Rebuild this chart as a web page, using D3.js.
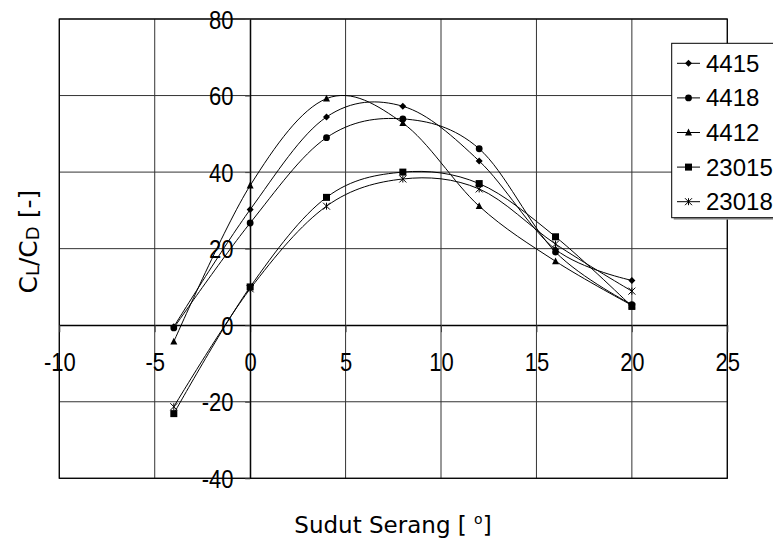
<!DOCTYPE html>
<html>
<head>
<meta charset="utf-8">
<script src="https://cdn.jsdelivr.net/npm/d3@7"></script>
<style>
  html, body { margin: 0; padding: 0; background: #fff; }
  svg { display: block; }
</style>
</head>
<body>
<svg id="chart" width="773" height="541"></svg>
<script>
// Angle of attack (degrees) and lift-to-drag ratio for each airfoil
const angles = [-4, 0, 4, 8, 12, 16, 20];
const seriesNames = ["4415", "4418", "4412", "23015", "23018"];
const cl4415  = [-0.4, 30.2, 54.4, 57.2, 42.9, 19.8, 11.7];
const cl4418  = [-0.7, 26.7, 49.0, 53.9, 46.1, 19.1, 5.4];
const cl4412  = [-4.3, 36.5, 59.2, 52.8, 31.1, 16.7, 5.2];
const cl23015 = [-23.1, 10.0, 33.4, 40.0, 37.0, 23.1, 4.9];
const cl23018 = [-21.3, 9.5, 31.1, 38.2, 35.6, 21.2, 8.9];
const seriesValues = [cl4415, cl4418, cl4412, cl23015, cl23018];
const markerTypes = ["diamond", "circle", "triangle", "square", "star"];

const xTicks = [-10, -5, 0, 5, 10, 15, 20, 25];
const yTicks = [-40, -20, 0, 20, 40, 60, 80];

const svg = d3.select("#chart");
const plot = { left: 59.3, right: 727.3, top: 19, bottom: 478.3 };

const x = d3.scaleLinear().domain([-10, 25]).range([plot.left, plot.right]);
const y = d3.scaleLinear().domain([-40, 80]).range([plot.bottom, plot.top]);

const TICK_FONT = "'Liberation Sans', Arial, sans-serif";
const TITLE_FONT = "'DejaVu Sans', Verdana, sans-serif";
const SQUEEZE = 0.88;
const plainNumber = d => String(d);   // hyphen-minus, as printed on the axes

// Grid
const grid = svg.append("g");
grid.selectAll("line.v").data(xTicks).join("line")
  .attr("x1", d => x(d)).attr("x2", d => x(d))
  .attr("y1", plot.top).attr("y2", plot.bottom)
  .attr("stroke", "#333").attr("stroke-width", 1);
grid.selectAll("line.h").data(yTicks).join("line")
  .attr("y1", d => y(d)).attr("y2", d => y(d))
  .attr("x1", plot.left).attr("x2", plot.right)
  .attr("stroke", "#333").attr("stroke-width", 1);

// Plot frame
svg.append("rect")
  .attr("x", plot.left).attr("y", plot.top)
  .attr("width", plot.right - plot.left).attr("height", plot.bottom - plot.top)
  .attr("fill", "none").attr("stroke", "#000").attr("stroke-width", 1.2);

// Axes crossing at the origin
const xAxis = svg.append("g")
  .attr("transform", `translate(0,${y(0)})`)
  .call(d3.axisBottom(x).tickValues(xTicks).tickSize(7).tickSizeOuter(0).tickFormat(plainNumber));
const yAxis = svg.append("g")
  .attr("transform", `translate(${x(0)},0)`)
  .call(d3.axisLeft(y).tickValues(yTicks).tickSize(5).tickSizeOuter(0).tickFormat(plainNumber));

[xAxis, yAxis].forEach(g => {
  g.select(".domain").attr("stroke", "#000").attr("stroke-width", 1.2);
  g.selectAll(".tick line").attr("stroke", "#444");
  g.selectAll("text")
    .attr("font-family", TICK_FONT).attr("font-size", 25).attr("fill", "#000");
});
xAxis.selectAll("text")
  .attr("y", 0).attr("dy", null).attr("x", 0)
  .attr("text-anchor", "middle")
  .attr("transform", `translate(0,46) scale(${SQUEEZE},1)`);
yAxis.selectAll("text")
  .attr("x", 0).attr("dy", null).attr("y", 0)
  .attr("text-anchor", "end")
  .attr("transform", `translate(-16.7,9.2) scale(${SQUEEZE},1)`);

// Series curves and markers
const line = d3.line()
  .x((d, i) => x(angles[i]))
  .y(d => y(d))
  .curve(d3.curveCardinal.tension(0));

function drawMarker(g, type, cx, cy) {
  const s = 3.5;
  if (type === "diamond") {
    g.append("path").attr("d", `M${cx},${cy - s}L${cx + s},${cy}L${cx},${cy + s}L${cx - s},${cy}Z`).attr("fill", "#000");
  } else if (type === "circle") {
    g.append("circle").attr("cx", cx).attr("cy", cy).attr("r", 3.4).attr("fill", "#000");
  } else if (type === "triangle") {
    g.append("path").attr("d", `M${cx},${cy - s - 0.4}L${cx + s},${cy + s - 0.6}L${cx - s},${cy + s - 0.6}Z`).attr("fill", "#000");
  } else if (type === "square") {
    g.append("rect").attr("x", cx - 3.5).attr("y", cy - 3.5).attr("width", 7).attr("height", 7).attr("fill", "#000");
  } else if (type === "star") {
    g.append("path")
      .attr("d", `M${cx - s},${cy - s}L${cx + s},${cy + s}M${cx - s},${cy + s}L${cx + s},${cy - s}M${cx},${cy - s}L${cx},${cy + s}`)
      .attr("stroke", "#000").attr("stroke-width", 1).attr("fill", "none");
  }
}

const seriesG = svg.append("g");
seriesValues.forEach((vals, k) => {
  seriesG.append("path")
    .attr("d", line(vals))
    .attr("fill", "none").attr("stroke", "#000").attr("stroke-width", 1);
});
seriesValues.forEach((vals, k) => {
  vals.forEach((v, i) => drawMarker(seriesG, markerTypes[k], x(angles[i]), y(v)));
});

// Legend
const legend = { x: 671.7, y: 43.3, w: 110, h: 174.4, rowTop: 63.3, rowStep: 34.6 };
svg.append("rect")
  .attr("x", legend.x + 2).attr("y", legend.y + 2)
  .attr("width", legend.w).attr("height", legend.h)
  .attr("fill", "#999");
svg.append("rect")
  .attr("x", legend.x).attr("y", legend.y)
  .attr("width", legend.w).attr("height", legend.h)
  .attr("fill", "#fff").attr("stroke", "#000").attr("stroke-width", 1);
const lg = svg.append("g");
seriesNames.forEach((name, k) => {
  const cy = legend.rowTop + k * legend.rowStep;
  lg.append("line").attr("x1", 677).attr("x2", 700).attr("y1", cy).attr("y2", cy)
    .attr("stroke", "#000").attr("stroke-width", 1);
  drawMarker(lg, markerTypes[k], 688.5, cy);
  lg.append("text").attr("x", 706).attr("y", cy + 8.5)
    .attr("font-family", TICK_FONT).attr("font-size", 24).attr("fill", "#000")
    .text(name);
});

// Axis titles
const yTitle = svg.append("text")
  .attr("transform", "translate(36.5,241.7) rotate(-90)")
  .attr("text-anchor", "middle")
  .attr("font-family", TITLE_FONT).attr("font-size", 25).attr("fill", "#000");
yTitle.append("tspan").text("C");
yTitle.append("tspan").attr("font-size", 18).attr("dy", 2).text("L");
yTitle.append("tspan").attr("dy", -2).text("/C");
yTitle.append("tspan").attr("font-size", 18).attr("dy", 2).text("D");
yTitle.append("tspan").attr("dy", -2).text(" [-]");

const xTitle = svg.append("text")
  .attr("x", 393).attr("y", 533)
  .attr("text-anchor", "middle")
  .attr("font-family", TITLE_FONT).attr("font-size", 23).attr("fill", "#000");
xTitle.append("tspan").text("Sudut Serang [ ");
xTitle.append("tspan").attr("font-size", 14).attr("dy", -9).text("o");
xTitle.append("tspan").attr("dy", 9).text("]");
</script>
</body>
</html>
